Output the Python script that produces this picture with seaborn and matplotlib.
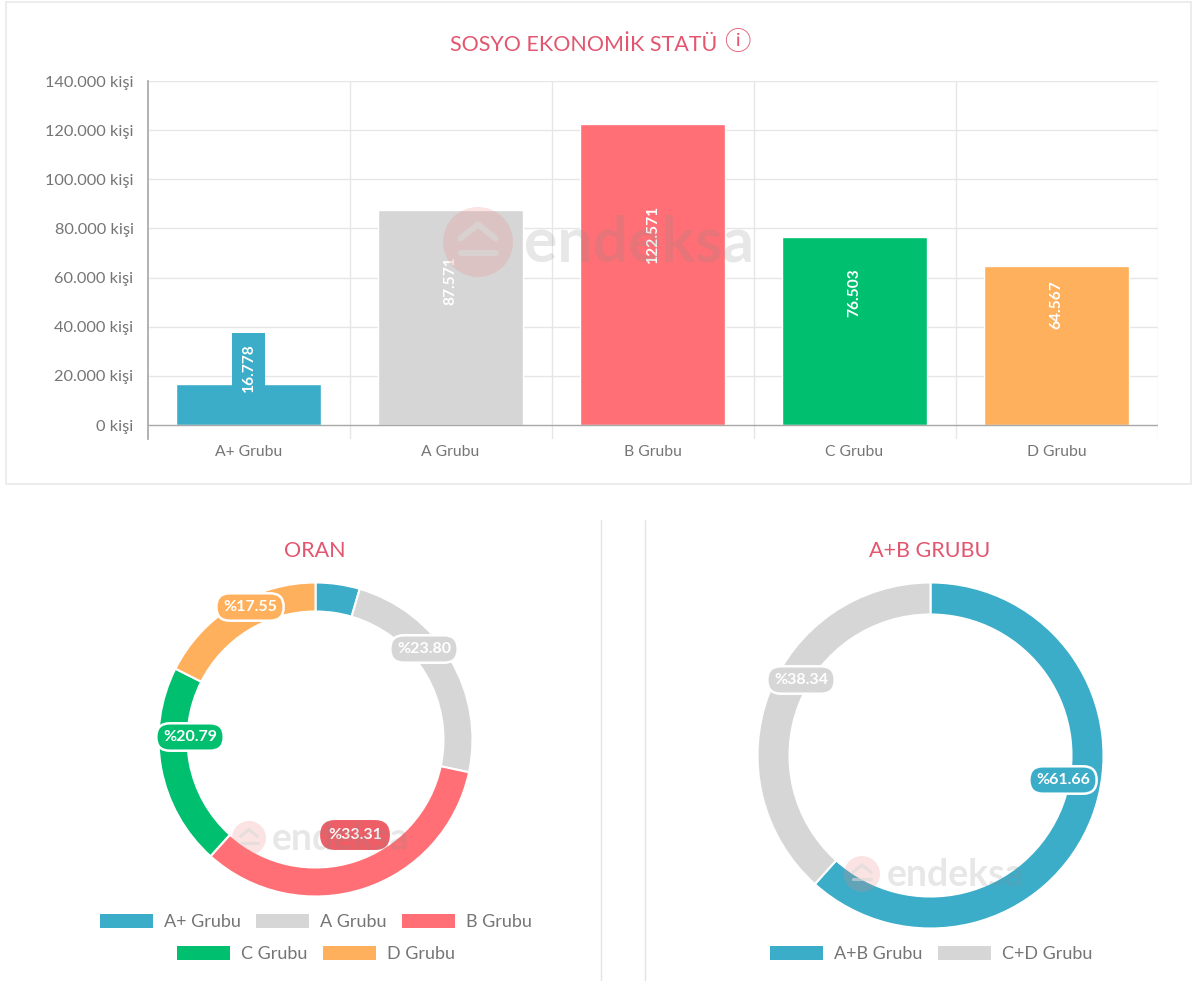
import matplotlib
matplotlib.use("Agg")
import matplotlib.pyplot as plt
from matplotlib.patches import Circle, Rectangle
from matplotlib.lines import Line2D
import pandas as pd
import seaborn as sns

W, H = 1192, 981
categories = ["A+ Grubu", "A Grubu", "B Grubu", "C Grubu", "D Grubu"]
people = [16778, 87571, 122571, 76503, 64567]
bar_labels = ["16.778", "87.571", "122.571", "76.503", "64.567"]
y_ticks = [0, 20000, 40000, 60000, 80000, 100000, 120000, 140000]
y_tick_labels = ["0 kişi", "20.000 kişi", "40.000 kişi", "60.000 kişi", "80.000 kişi",
                 "100.000 kişi", "120.000 kişi", "140.000 kişi"]
colors = ["#3BADC9", "#D6D6D6", "#FF6F75", "#00BF6F", "#FFB05C"]

share_groups = categories
share_values = [4.55, 23.80, 33.31, 20.79, 17.55]
share_labels = ["%23.80", "%33.31", "%20.79", "%17.55"]
ab_groups = ["A+B Grubu", "C+D Grubu"]
ab_values = [61.66, 38.34]
ab_labels = ["%61.66", "%38.34"]
ab_colors = ["#3BADC9", "#D6D6D6"]

sns.set_theme(style="white")
plt.rcParams["font.family"] = ["Lato", "DejaVu Sans"]
TEXT = "#757575"
TITLE = "#E2566F"
GRID = "#e6e6e6"

fig = plt.figure(figsize=(W / 100, H / 100), dpi=100, facecolor="white")


def px_axes(l, t, r, b, **kw):
    return fig.add_axes([l / W, 1 - b / H, (r - l) / W, (b - t) / H], **kw)


# overlay in image pixels, for frames, labels and watermarks
ov = fig.add_axes([0, 0, 1, 1], zorder=10)
ov.set_xlim(0, W)
ov.set_ylim(H, 0)
ov.set_axis_off()
ov.patch.set_alpha(0)

ov.add_patch(Rectangle((5.5, 1.5), 1185.5, 482.5, fc="none", ec="#ebebeb", lw=1.3))
ov.plot([600.5, 600.5], [520, 981], color="#e4e4e4", lw=1)
ov.plot([644.5, 644.5], [520, 981], color="#e4e4e4", lw=1)

# ---- bar chart
ax = px_axes(147.5, 81, 1157.5, 439)
df = pd.DataFrame({"group": categories, "people": people})
sns.barplot(data=df, x="group", y="people", hue="group", palette=colors, dodge=False,
            width=0.72, saturation=1, legend=False, ax=ax, zorder=3)
ax.set_xlim(-0.5, 4.5)
ax.set_ylim(-5650, 140000)
ax.set_xlabel("")
ax.set_ylabel("")
ax.set_yticks(y_ticks, y_tick_labels)
ax.set_xticks(range(5), categories)
ax.tick_params(axis="x", length=0, labelsize=11.3, labelcolor=TEXT, pad=4)
ax.tick_params(axis="y", length=10, width=1, color="#c4c4c4", labelsize=11.8, labelcolor=TEXT,
               pad=0, direction="out")
for s in ["top", "right", "bottom"]:
    ax.spines[s].set_visible(False)
ax.spines["left"].set_color("#a8a8a8")
for v in y_ticks:
    ax.axhline(v, color="#a8a8a8" if v == 0 else GRID, lw=1, zorder=1 if v else 4)
for x in [0.5, 1.5, 2.5, 3.5, 4.5]:
    ax.axvline(x, color=GRID, lw=1, zorder=1)
ax.set_axisbelow(True)

label_heights = [23500, 59000, 78000, 54000, 49000]
for i, (y, lab) in enumerate(zip(label_heights, bar_labels)):
    bbox = dict(boxstyle="square,pad=0.62", fc=colors[0], ec="none") if i == 0 else None
    ax.text(i, y, lab, rotation=90, color="white", fontsize=11.2, fontweight="bold",
            ha="center", va="center", bbox=bbox, zorder=5)

ov.text(583.5, 45, "SOSYO EKONOMİK STATÜ", color=TITLE, fontsize=15.5, ha="center", va="center")
ov.text(737, 42, "ⓘ", color=TITLE, fontsize=19, ha="center", va="center",
        family=["Noto Sans CJK SC", "DejaVu Sans"])


# ---- donuts
def donut(cx, cy, r, ring, values, cols):
    a = px_axes(cx - r, cy - r, cx + r, cy + r)
    a.pie(values, colors=cols, startangle=90, counterclock=False, radius=1,
          wedgeprops=dict(width=ring / r, edgecolor="white", linewidth=1.5))
    a.set_xlim(-1, 1)
    a.set_ylim(-1, 1)
    a.set_axis_off()
    return a


donut(315.5, 739.5, 157, 29, share_values, colors)
donut(930.5, 755.5, 173, 32, ab_values, ab_colors)


def pill(x, y, s, col, edge="white"):
    ov.text(x, y, s, color="white", fontsize=11.5, fontweight="bold", ha="center", va="center", zorder=6,
            bbox=dict(boxstyle="round,pad=0.42,rounding_size=0.85", fc=col, ec=edge, lw=1.8))


pill(424, 649, share_labels[0], colors[1])
pill(355, 835, share_labels[1], "#EE5E66", edge="#EE5E66")
pill(190, 737, share_labels[2], colors[3])
pill(250, 607, share_labels[3], colors[4])
pill(1063, 780, ab_labels[0], ab_colors[0])
pill(801, 680, ab_labels[1], ab_colors[1])

ov.text(315, 551, "ORAN", color=TITLE, fontsize=15.5, ha="center", va="center")
ov.text(930, 551, "A+B GRUBU", color=TITLE, fontsize=15.5, ha="center", va="center")


# ---- legends
def legend_row(labels, cols, x, y, ncol):
    hs = [Rectangle((0, 0), 1, 1, fc=c, ec="none") for c in cols]
    fig.legend(hs, labels, loc="center", bbox_to_anchor=(x / W, 1 - y / H), ncol=ncol,
               frameon=False, fontsize=13, labelcolor=TEXT, handlelength=2.95, handleheight=0.83,
               columnspacing=0.85, handletextpad=0.6, borderpad=0, borderaxespad=0)


legend_row(categories[:3], colors[:3], 316, 922, 3)
legend_row(categories[3:], colors[3:], 316, 954, 2)
legend_row(ab_groups, ab_colors, 931, 954, 2)


# ---- watermarks
def watermark(cx, cy, r, tx, size):
    ov.add_patch(Circle((cx, cy), r, fc="#F08080", ec="none", alpha=0.22, zorder=7))
    ov.plot([cx - r * .5, cx, cx + r * .5], [cy - r * .1, cy - r * .5, cy - r * .1],
            color="#d9d9d9", lw=r / 8, alpha=.6, zorder=7)
    ov.plot([cx - r * .5, cx + r * .5], [cy + r * .3, cy + r * .3], color="#d9d9d9", lw=r / 8, alpha=.6, zorder=7)
    ov.text(tx, cy + 1, "endeksa", ha="left", va="center", color="#8a8a8a", alpha=0.2, fontsize=size,
            fontweight="bold", zorder=7)


watermark(478, 242, 35, 524, 45)
watermark(249, 838, 17, 272, 27)
watermark(862, 874, 18, 887, 27)

fig.savefig("out.png", dpi=100, facecolor="white")
